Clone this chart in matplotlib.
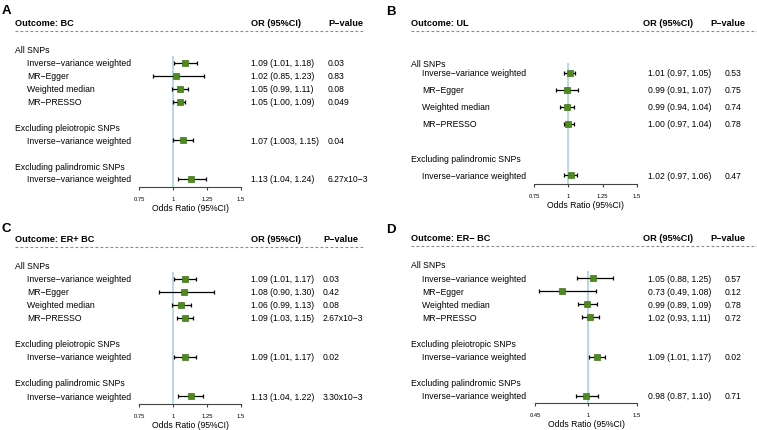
import matplotlib
matplotlib.use("Agg")
import matplotlib.pyplot as plt
from matplotlib.lines import Line2D
from matplotlib.transforms import blended_transform_factory

plt.rcParams['font.family'] = ['Liberation Sans', 'DejaVu Sans']

# datos
grupos = ["All SNPs", "Excluding pleiotropic SNPs", "Excluding palindromic SNPs"]
metodos_todos = ["Inverse\u2212variance weighted", "MR\u2212Egger", "Weighted median", "MR\u2212PRESSO"]
metodo_ivw = ["Inverse\u2212variance weighted"]

# A: BC
a_grupos = [grupos[0], grupos[1], grupos[2]]
a_metodos = [metodos_todos, metodo_ivw, metodo_ivw]
a_or = [1.09, 1.02, 1.05, 1.05, 1.07, 1.13]
a_lo = [1.01, 0.85, 0.99, 1.00, 1.003, 1.04]
a_hi = [1.18, 1.23, 1.11, 1.09, 1.15, 1.24]
a_txt = ["1.09 (1.01, 1.18)", "1.02 (0.85, 1.23)", "1.05 (0.99, 1.11)", "1.05 (1.00, 1.09)",
         "1.07 (1.003, 1.15)", "1.13 (1.04, 1.24)"]
a_p = ["0.03", "0.83", "0.08", "0.049", "0.04", "6.27x10\u22123"]

# B: UL
b_grupos = [grupos[0], grupos[2]]
b_metodos = [metodos_todos, metodo_ivw]
b_or = [1.01, 0.99, 0.99, 1.00, 1.02]
b_lo = [0.97, 0.91, 0.94, 0.97, 0.97]
b_hi = [1.05, 1.07, 1.04, 1.04, 1.06]
b_txt = ["1.01 (0.97, 1.05)", "0.99 (0.91, 1.07)", "0.99 (0.94, 1.04)", "1.00 (0.97, 1.04)",
         "1.02 (0.97, 1.06)"]
b_p = ["0.53", "0.75", "0.74", "0.78", "0.47"]

# C: ER+ BC
c_grupos = [grupos[0], grupos[1], grupos[2]]
c_metodos = [metodos_todos, metodo_ivw, metodo_ivw]
c_or = [1.09, 1.08, 1.06, 1.09, 1.09, 1.13]
c_lo = [1.01, 0.90, 0.99, 1.03, 1.01, 1.04]
c_hi = [1.17, 1.30, 1.13, 1.15, 1.17, 1.22]
c_txt = ["1.09 (1.01, 1.17)", "1.08 (0.90, 1.30)", "1.06 (0.99, 1.13)", "1.09 (1.03, 1.15)",
         "1.09 (1.01, 1.17)", "1.13 (1.04, 1.22)"]
c_p = ["0.03", "0.42", "0.08", "2.67x10\u22123", "0.02", "3.30x10\u22123"]

# D: ER- BC
d_grupos = [grupos[0], grupos[1], grupos[2]]
d_metodos = [metodos_todos, metodo_ivw, metodo_ivw]
d_or = [1.05, 0.73, 0.99, 1.02, 1.09, 0.98]
d_lo = [0.88, 0.49, 0.89, 0.93, 1.01, 0.87]
d_hi = [1.25, 1.08, 1.09, 1.11, 1.17, 1.10]
d_txt = ["1.05 (0.88, 1.25)", "0.73 (0.49, 1.08)", "0.99 (0.89, 1.09)", "1.02 (0.93, 1.11)",
         "1.09 (1.01, 1.17)", "0.98 (0.87, 1.10)"]
d_p = ["0.57", "0.12", "0.78", "0.72", "0.02", "0.71"]

ticks_abc = [0.75, 1, 1.25, 1.5]
ticklbl_abc = ["0.75", "1", "1.25", "1.5"]
ticks_d = [0.45, 1, 1.5]
ticklbl_d = ["0.45", "1", "1.5"]

W, H = 757, 431
fig = plt.figure(figsize=(W / 100, H / 100), dpi=100)

def fx(px):
    return px / W

def fy(py):
    return 1 - py / H

FS = 6.2
FSB = 6.6
VERDE = '#4e8a1e'


def panel(letra, titulo, grp, mets, orv, lo, hi, txt, pv, ticks, ticklbl, lay):
    # construir filas: encabezado, metodos, fila vacia
    filas = []
    i = 0
    for g, ms in zip(grp, mets):
        filas.append((i, g, True))
        i += 1
        for m in ms:
            filas.append((i, m, False))
            i += 1
        i += 1
    ys = [f[0] for f in filas if not f[2]]

    r0, paso = lay['r0'], lay['paso']
    top = r0 - 0.6 * paso
    ax = fig.add_axes([fx(lay['x0']), fy(lay['eje']), fx(lay['x1']) - fx(lay['x0']),
                       fy(top) - fy(lay['eje'])])
    ax.set_xlim(ticks[0], ticks[-1])
    ax.set_ylim((lay['eje'] - r0) / paso, -0.6)
    ax.patch.set_alpha(0)
    for s in ['top', 'right', 'left']:
        ax.spines[s].set_visible(False)
    ax.spines['bottom'].set_color('#444444')
    ax.spines['bottom'].set_linewidth(0.8)
    ax.set_yticks([])
    ax.set_xticks(ticks)
    ax.set_xticklabels(ticklbl)
    ax.tick_params(axis='x', length=2.2, width=0.8, color='#444444', labelsize=4.2, pad=4)
    ax.set_xlabel('Odds Ratio (95%CI)', fontsize=FS, labelpad=1.5)

    ax.vlines(1, 0.45, (lay['eje'] - r0) / paso, color='#a9d4e2', lw=1.2, zorder=1)
    xe = [[o - l for o, l in zip(orv, lo)], [h - o for o, h in zip(orv, hi)]]
    ax.errorbar(orv, ys, xerr=xe, fmt='none', ecolor='black', elinewidth=0.9,
                capsize=1.5, capthick=0.9, zorder=2, clip_on=False)
    ax.plot(orv, ys, 's', ms=4.8, mfc=VERDE, mec='#3f7416', mew=0.5, zorder=3, clip_on=False)

    tr = blended_transform_factory(fig.transFigure, ax.transData)
    k = 0
    for (y, t, cab) in filas:
        if cab:
            # el primer encabezado de B queda mas pegado a su primera fila
            yy = y + (lay.get('h0', 0) / paso if y == 0 else 0)
            ax.text(fx(lay['xh']), yy, t, transform=tr, fontsize=FS, va='center', clip_on=False)
        else:
            ax.text(fx(lay['xm']), y, t, transform=tr, fontsize=FS, va='center', clip_on=False)
            ax.text(fx(lay['xor']), y, txt[k], transform=tr, fontsize=FS, va='center', clip_on=False)
            ax.text(fx(lay['xp']), y, pv[k], transform=tr, fontsize=FS, va='center', clip_on=False)
            k += 1

    fig.text(fx(lay['xl']), fy(lay['yl']), letra, fontsize=9.5, fontweight='bold', va='center')
    fig.text(fx(lay['xh']), fy(lay['yh']), 'Outcome: ' + titulo, fontsize=FSB, fontweight='bold', va='center')
    fig.text(fx(lay['xorh']), fy(lay['yh']), 'OR (95%CI)', fontsize=FSB, fontweight='bold', va='center')
    fig.text(fx(lay['xph']), fy(lay['yh']), 'P\u2212value', fontsize=FSB, fontweight='bold', va='center')
    fig.add_artist(Line2D([fx(lay['xh']), fx(lay['xfin'])], [fy(lay['yh'] + 8)] * 2,
                          color='#8a8a8a', lw=0.8, ls=(0, (2.5, 2))))


lay_a = dict(xl=2, yl=11, xh=15, yh=24, xm=27, x0=139, x1=241, r0=51, paso=12.9, eje=188,
             xor=251, xorh=251, xp=328, xph=328, xfin=365)
lay_b = dict(xl=386, yl=12, xh=411, yh=24, xm=422, x0=534, x1=637, r0=56.5, paso=17.1, eje=185,
             xor=648, xorh=643, xp=725, xph=710, xfin=757, h0=8)
lay_c = dict(xl=2, yl=229, xh=15, yh=240, xm=27, x0=139, x1=241, r0=267, paso=13, eje=405,
             xor=251, xorh=251, xp=323, xph=323, xfin=365)
lay_d = dict(xl=386, yl=230, xh=411, yh=239, xm=422, x0=535, x1=637, r0=266, paso=13.1, eje=404,
             xor=648, xorh=643, xp=725, xph=710, xfin=757)

panel('A', 'BC', a_grupos, a_metodos, a_or, a_lo, a_hi, a_txt, a_p, ticks_abc, ticklbl_abc, lay_a)
panel('B', 'UL', b_grupos, b_metodos, b_or, b_lo, b_hi, b_txt, b_p, ticks_abc, ticklbl_abc, lay_b)
panel('C', 'ER+ BC', c_grupos, c_metodos, c_or, c_lo, c_hi, c_txt, c_p, ticks_abc, ticklbl_abc, lay_c)
panel('D', 'ER\u2212 BC', d_grupos, d_metodos, d_or, d_lo, d_hi, d_txt, d_p, ticks_d, ticklbl_d, lay_d)

fig.savefig('out.png', dpi=100)
